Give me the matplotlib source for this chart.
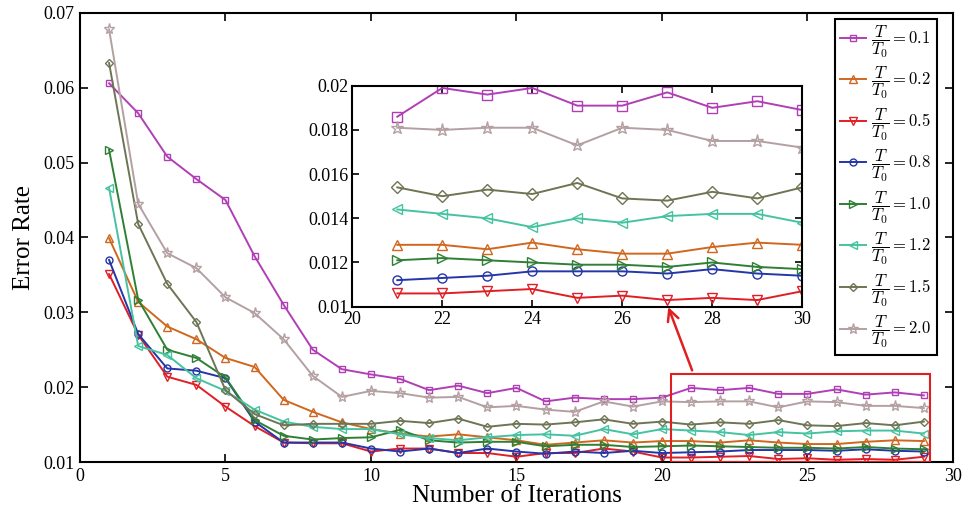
import numpy as np
import matplotlib
matplotlib.use("Agg")
import matplotlib.pyplot as plt
from matplotlib.patches import Rectangle

plt.rcParams['font.family'] = ['Liberation Serif', 'DejaVu Serif']
plt.rcParams['mathtext.fontset'] = 'cm'

iters = np.arange(1, 30)
ratios = ["0.1", "0.2", "0.5", "0.8", "1.0", "1.2", "1.5", "2.0"]

err_01 = [0.0606, 0.0566, 0.0508, 0.0478, 0.0450, 0.0375, 0.0310, 0.0250, 0.0224, 0.0217,
          0.0211, 0.0196, 0.0202, 0.0192, 0.0199, 0.0181, 0.0186, 0.0184, 0.0184, 0.0186,
          0.0199, 0.0196, 0.0199, 0.0191, 0.0191, 0.0197, 0.0190, 0.0193, 0.0189]
err_02 = [0.0399, 0.0314, 0.0281, 0.0264, 0.0239, 0.0227, 0.0183, 0.0167, 0.0153, 0.0144,
          0.0138, 0.0134, 0.0137, 0.0133, 0.0129, 0.0123, 0.0126, 0.0129, 0.0126, 0.0128,
          0.0128, 0.0126, 0.0129, 0.0126, 0.0124, 0.0124, 0.0127, 0.0129, 0.0128]
err_05 = [0.0351, 0.0270, 0.0214, 0.0203, 0.0174, 0.0148, 0.0126, 0.0125, 0.0125, 0.0114,
          0.0118, 0.0118, 0.0112, 0.0112, 0.0107, 0.0112, 0.0112, 0.0118, 0.0114, 0.0106,
          0.0106, 0.0107, 0.0108, 0.0104, 0.0105, 0.0103, 0.0104, 0.0103, 0.0107]
err_08 = [0.0370, 0.0271, 0.0225, 0.0222, 0.0212, 0.0154, 0.0126, 0.0126, 0.0126, 0.0118,
          0.0114, 0.0118, 0.0112, 0.0118, 0.0114, 0.0111, 0.0114, 0.0112, 0.0115, 0.0112,
          0.0113, 0.0114, 0.0116, 0.0116, 0.0116, 0.0115, 0.0117, 0.0115, 0.0114]
err_10 = [0.0517, 0.0317, 0.0250, 0.0239, 0.0213, 0.0156, 0.0135, 0.0130, 0.0132, 0.0133,
          0.0143, 0.0129, 0.0126, 0.0127, 0.0127, 0.0121, 0.0123, 0.0123, 0.0120, 0.0121,
          0.0122, 0.0121, 0.0120, 0.0119, 0.0119, 0.0118, 0.0120, 0.0118, 0.0117]
err_12 = [0.0466, 0.0255, 0.0243, 0.0212, 0.0195, 0.0170, 0.0154, 0.0147, 0.0144, 0.0144,
          0.0137, 0.0132, 0.0129, 0.0133, 0.0136, 0.0137, 0.0135, 0.0144, 0.0137, 0.0144,
          0.0142, 0.0140, 0.0136, 0.0140, 0.0138, 0.0141, 0.0142, 0.0142, 0.0138]
err_15 = [0.0633, 0.0418, 0.0338, 0.0287, 0.0196, 0.0164, 0.0149, 0.0151, 0.0151, 0.0151,
          0.0155, 0.0152, 0.0158, 0.0147, 0.0151, 0.0150, 0.0153, 0.0157, 0.0151, 0.0154,
          0.0150, 0.0153, 0.0151, 0.0156, 0.0149, 0.0148, 0.0152, 0.0149, 0.0154]
err_20 = [0.0678, 0.0445, 0.0379, 0.0359, 0.0320, 0.0299, 0.0264, 0.0215, 0.0187, 0.0195,
          0.0192, 0.0186, 0.0187, 0.0173, 0.0175, 0.0170, 0.0167, 0.0181, 0.0174, 0.0181,
          0.0180, 0.0181, 0.0181, 0.0173, 0.0181, 0.0180, 0.0175, 0.0175, 0.0172]

series = [err_01, err_02, err_05, err_08, err_10, err_12, err_15, err_20]
colors = ['#B03FB5', '#D0671F', '#E01E26', '#2436A8', '#2F7F35', '#45C3A0', '#6E7554', '#B4A0A2']
markers = ['s', '^', 'v', 'o', '>', '<', 'D', '*']
msizes = [5, 6, 6, 5, 6, 6, 4.5, 8]

# inset: last 10 values, shown at iterations 21..30
inset_x = np.arange(21, 31)

fig = plt.figure(figsize=(9.66, 5.15), dpi=100)
ax = fig.add_axes([0.0828, 0.1029, 0.9037, 0.872])

for s, c, m, ms, r in zip(series, colors, markers, msizes, ratios):
    ax.plot(iters, s, color=c, marker=m, ms=ms, mfc='none', mew=1.0, lw=1.4,
            label=r'$\dfrac{T}{T_0}=%s$' % r)

ax.set_xlim(0, 30)
ax.set_ylim(0.01, 0.07)
ax.set_xticks(range(0, 31, 5))
ax.set_yticks([0.01, 0.02, 0.03, 0.04, 0.05, 0.06, 0.07])
ax.set_yticklabels(['0.01', '0.02', '0.03', '0.04', '0.05', '0.06', '0.07'])
ax.tick_params(direction='in', top=True, right=True, labelsize=13, length=6, width=1.2, pad=4)
for sp in ax.spines.values():
    sp.set_linewidth(1.5)
ax.set_xlabel('Number of Iterations', fontsize=18, labelpad=0)
ax.set_ylabel('Error Rate', fontsize=18, labelpad=6)

leg = ax.legend(loc='upper right', bbox_to_anchor=(0.985, 0.995), fontsize=12,
                labelspacing=0.33, handlelength=1.6, handletextpad=0.3,
                borderpad=0.3, borderaxespad=0.2, fancybox=False, edgecolor='black', framealpha=1)
leg.get_frame().set_linewidth(1.5)

ax.add_patch(Rectangle((20.3, 0.01), 8.9, 0.0117, fill=False, edgecolor='#E02020', lw=1.5, zorder=5))

axin = fig.add_axes([0.3647, 0.4045, 0.4658, 0.429])
for s, c, m, ms in zip(series, colors, markers, msizes):
    axin.plot(inset_x, s[-10:], color=c, marker=m, ms=ms + 1.5, mfc='none', mew=1.0, lw=1.4)
axin.set_xlim(20, 30)
axin.set_ylim(0.01, 0.02)
axin.set_xticks(range(20, 31, 2))
axin.set_yticks([0.01, 0.012, 0.014, 0.016, 0.018, 0.02])
axin.set_yticklabels(['0.01', '0.012', '0.014', '0.016', '0.018', '0.02'])
axin.tick_params(direction='in', top=True, right=True, labelsize=13, length=5, width=1.2, pad=3)
for sp in axin.spines.values():
    sp.set_linewidth(1.5)

ax.annotate('', xy=(27, 0.0101), xycoords=axin.transData,
            xytext=(21.07, 0.0219), textcoords=ax.transData,
            arrowprops=dict(arrowstyle='->', color='#E02020', lw=1.8, mutation_scale=20),
            zorder=6)

fig.savefig('out.png', dpi=100)
